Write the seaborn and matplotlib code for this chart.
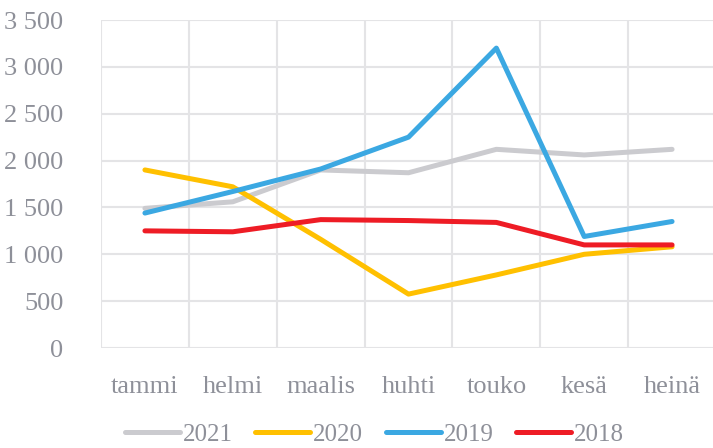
import matplotlib
matplotlib.use("Agg")
import matplotlib.pyplot as plt
import matplotlib.ticker as mticker
import numpy as np
import pandas as pd
import seaborn as sns
from matplotlib.lines import Line2D

months = ["tammi", "helmi", "maalis", "huhti", "touko", "kesä", "heinä"]
years = ["2021", "2020", "2019", "2018"]
v2021 = [1490, 1560, 1900, 1870, 2120, 2060, 2120]
v2020 = [1900, 1720, 1160, 575, 780, 1000, 1080]
v2019 = [1440, 1670, 1910, 2250, 3200, 1190, 1350]
v2018 = [1250, 1240, 1370, 1360, 1340, 1100, 1100]
yticks = [0, 500, 1000, 1500, 2000, 2500, 3000, 3500]
colors = ["#CBCBCF", "#FFC000", "#3BA8E2", "#EE1C25"]

series = {"2021": v2021, "2020": v2020, "2019": v2019, "2018": v2018}
rows = []
for y in years:
    for i, m in enumerate(months):
        rows.append({"kk": i, "year": y, "val": series[y][i]})
df = pd.DataFrame(rows)

sns.set_theme(style="white")
plt.rcParams["font.family"] = ["Liberation Serif", "DejaVu Serif"]
txt = "#8E9099"
grid = "#E4E4E6"
fs = 19

fig = plt.figure(figsize=(7.13, 4.48), dpi=100)
ax = fig.add_axes([101 / 713, 100 / 448, 615 / 713, 328 / 448])

sns.lineplot(data=df, x="kk", y="val", hue="year", hue_order=years,
             palette=colors, linewidth=3.6, ax=ax, legend=False, zorder=3)
for l in ax.lines:
    l.set_solid_capstyle("round")
    l.set_solid_joinstyle("round")

ax.set_xlim(-0.5, 6.5)
ax.set_ylim(0, 3500)
ax.set_yticks(yticks)
ax.yaxis.set_major_formatter(mticker.FuncFormatter(lambda v, p: f"{int(v):,}".replace(",", " ")))
ax.set_xticks(range(len(months)))
ax.set_xticklabels(months)
ax.set_xticks(np.arange(-0.5, 7, 1), minor=True)
ax.grid(True, axis="y", which="major", color=grid, linewidth=1.5, zorder=0)
ax.grid(True, axis="x", which="minor", color=grid, linewidth=1.5, zorder=0)
ax.grid(False, axis="x", which="major")
for s in ax.spines.values():
    s.set_visible(False)
ax.tick_params(axis="both", which="both", length=0, labelsize=fs, colors=txt)
ax.tick_params(axis="x", pad=20)
ax.tick_params(axis="y", pad=27)
ax.set_xlabel("")
ax.set_ylabel("")

handles = [Line2D([0], [0], color=c, linewidth=3.6, solid_capstyle="round") for c in colors]
fig.legend(handles, years, loc="lower center", bbox_to_anchor=(0.525, -0.045), ncol=4,
           frameon=False, fontsize=18, labelcolor=txt, handlelength=2.2,
           handletextpad=0.12, columnspacing=0.9)

fig.savefig("out.png", dpi=100)
